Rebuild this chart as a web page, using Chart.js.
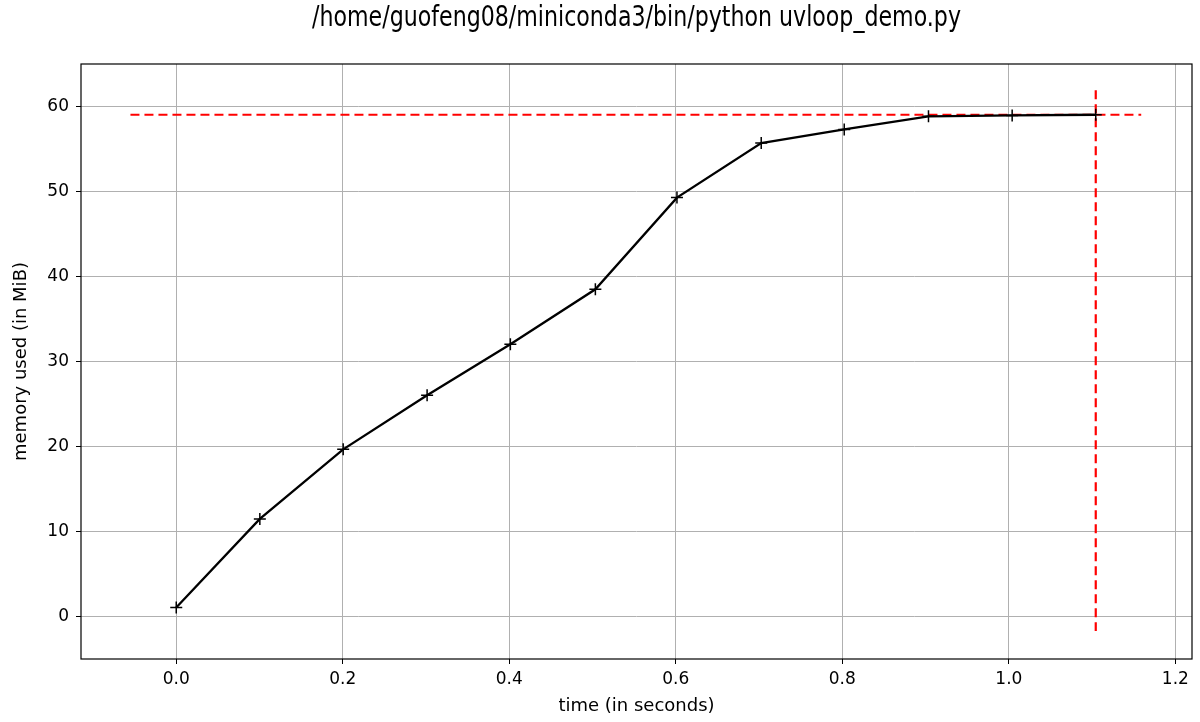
<!DOCTYPE html>
<html>
<head>
<meta charset="utf-8">
<script src="https://cdn.jsdelivr.net/npm/chart.js@4/dist/chart.umd.min.js"></script>
<style>
  body { margin: 0; background: #fff; }
  canvas { display: block; }
</style>
</head>
<body>
<canvas id="mem" width="1200" height="722"></canvas>
<script>
// memory samples (time in s, memory in MiB)
const times = [0.0, 0.1004, 0.2005, 0.3013, 0.4013, 0.5034, 0.6014, 0.7026, 0.8023, 0.9035, 1.0040, 1.1044];
const memory = [1.06, 11.48, 19.67, 26.02, 32.04, 38.5, 49.28, 55.7, 57.3, 58.84, 58.95, 59.03];

// peak markers (red dashed lines)
const peakHX = [-0.055, 1.159];
const peakHY = [59.03, 59.03];
const peakVX = [1.1044, 1.1044];
const peakVY = [61.9, -1.7];

const xTicks = [0.0, 0.2, 0.4, 0.6, 0.8, 1.0, 1.2];
const yTicks = [0, 10, 20, 30, 40, 50, 60];

const titleText = '/home/guofeng08/miniconda3/bin/python uvloop_demo.py';

const toPoints = (xs, ys) => xs.map((x, i) => ({ x: x, y: ys[i] }));

// matplotlib draws a box round the axes, and the title is centred over it
const frame = {
  id: 'frame',
  afterDraw(chart) {
    const a = chart.chartArea;
    const ctx = chart.ctx;
    ctx.save();
    ctx.strokeStyle = '#000';
    ctx.lineWidth = 1.2;
    ctx.strokeRect(a.left, a.top, a.right - a.left, a.bottom - a.top);

    // title looks squeezed in the original picture
    ctx.translate((a.left + a.right) / 2, 26);
    ctx.scale(0.79, 1);
    ctx.fillStyle = '#000';
    ctx.font = '28px "DejaVu Sans"';
    ctx.textAlign = 'center';
    ctx.textBaseline = 'alphabetic';
    ctx.fillText(titleText, 0, 0);
    ctx.restore();
  }
};

const tickFont = { family: 'DejaVu Sans', size: 17 };
const labelFont = { family: 'DejaVu Sans', size: 18 };

new Chart(document.getElementById('mem'), {
  type: 'line',
  data: {
    datasets: [
      {
        data: toPoints(times, memory),
        borderColor: '#000',
        borderWidth: 2.3,
        pointStyle: 'cross',
        pointRadius: 6,
        pointBorderWidth: 1.5,
        pointBorderColor: '#000',
        fill: false,
        tension: 0
      },
      {
        data: toPoints(peakHX, peakHY),
        borderColor: '#ff0000',
        borderWidth: 2.2,
        borderDash: [9, 5],
        pointRadius: 0,
        fill: false
      },
      {
        data: toPoints(peakVX, peakVY),
        borderColor: '#ff0000',
        borderWidth: 2.2,
        borderDash: [9, 5],
        pointRadius: 0,
        fill: false
      }
    ]
  },
  options: {
    responsive: false,
    animation: false,
    layout: { padding: { left: 0, right: 8, top: 64, bottom: 0 } },
    plugins: {
      legend: { display: false },
      tooltip: { enabled: false },
      title: { display: false }
    },
    scales: {
      x: {
        type: 'linear',
        min: -0.1144,
        max: 1.22,
        afterBuildTicks: s => { s.ticks = xTicks.map(v => ({ value: v })); },
        afterFit: s => { s.height = 63; },
        grid: { color: '#b0b0b0', lineWidth: 1, tickColor: '#000', tickLength: 5 },
        border: { display: false },
        ticks: { color: '#000', font: tickFont, padding: 5, maxRotation: 0, callback: v => v.toFixed(1) },
        title: { display: true, text: 'time (in seconds)', color: '#000', font: labelFont, padding: { top: 0, bottom: 5 } }
      },
      y: {
        type: 'linear',
        min: -5.0,
        max: 65.0,
        afterBuildTicks: s => { s.ticks = yTicks.map(v => ({ value: v })); },
        afterFit: s => { s.width = 81; },
        grid: { color: '#b0b0b0', lineWidth: 1, tickColor: '#000', tickLength: 5 },
        border: { display: false },
        ticks: { color: '#000', font: tickFont, padding: 7, callback: v => String(v) },
        title: { display: true, text: 'memory used (in MiB)', color: '#000', font: labelFont, padding: { top: 11, bottom: 0 } }
      }
    }
  },
  plugins: [frame]
});
</script>
</body>
</html>
